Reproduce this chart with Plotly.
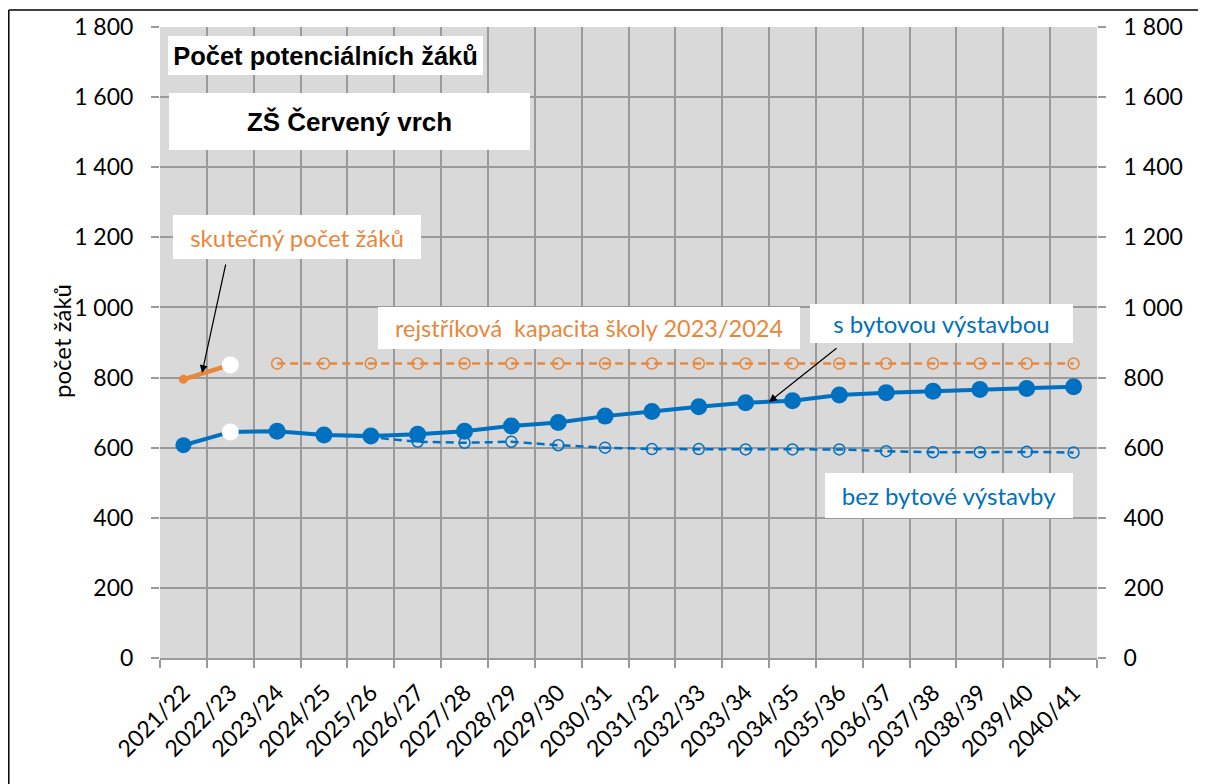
import plotly.graph_objects as go

categories = ["2021/22", "2022/23", "2023/24", "2024/25", "2025/26", "2026/27", "2027/28",
              "2028/29", "2029/30", "2030/31", "2031/32", "2032/33", "2033/34", "2034/35",
              "2035/36", "2036/37", "2037/38", "2038/39", "2039/40", "2040/41"]

actual_pupils = [795, 836]
with_housing = [607, 645, 647, 636, 633, 638, 647, 662, 672, 690, 703, 717, 728, 734,
                750, 757, 761, 766, 769, 774]
without_housing = [None, None, 647, 636, 630, 617, 614, 617, 607, 600, 596, 596, 595, 595,
                   595, 590, 587, 587, 588, 586]
capacity = [None, None] + [840] * 18

y_ticks = [0, 200, 400, 600, 800, 1000, 1200, 1400, 1600, 1800]

ORANGE = "#E8873A"
BLUE = "#0070C0"
GRID = "#9a9a9a"
FONT = "Lato"

fig = go.Figure()

fig.add_trace(go.Scatter(
    x=categories, y=capacity, mode="lines+markers",
    line=dict(color=ORANGE, width=2.5, dash="8px,5px"),
    marker=dict(symbol="circle-open", size=11, color=ORANGE, opacity=1,
                line=dict(width=1.5, color=ORANGE)),
    showlegend=False, hoverinfo="skip"))

fig.add_trace(go.Scatter(
    x=categories, y=without_housing, mode="lines+markers",
    line=dict(color=BLUE, width=2.5, dash="8px,5px"),
    marker=dict(symbol="circle-open", size=11, color=BLUE, opacity=1,
                line=dict(width=1.5, color=BLUE)),
    showlegend=False, hoverinfo="skip"))

fig.add_trace(go.Scatter(
    x=categories, y=with_housing, mode="lines+markers",
    line=dict(color=BLUE, width=4),
    marker=dict(size=[16] + [17] * 19, opacity=1,
                color=[BLUE, "white"] + [BLUE] * 18,
                line=dict(width=0)),
    showlegend=False, hoverinfo="skip"))

fig.add_trace(go.Scatter(
    x=categories[:2], y=actual_pupils, mode="lines+markers",
    line=dict(color=ORANGE, width=4.5),
    marker=dict(size=[9, 17], opacity=1, color=[ORANGE, "white"], line=dict(width=0)),
    showlegend=False, hoverinfo="skip"))

# dummy trace for right axis
fig.add_trace(go.Scatter(x=[categories[0]], y=[None], yaxis="y2", showlegend=False,
                         hoverinfo="skip"))

OFF = 8  # page offset of the figure (body margin)
FW, FH = 1198, 776
L, R, T, B = 160, 1097, 27, 658  # plot area in page pixels
W, H = R - L, B - T


def px(x):
    return (x - L) / W


def py(y):
    return (B - y) / H


def box(text, x0, x1, y0, y1, color, size, family, bold=False):
    t = f"<b>{text}</b>" if bold else text
    return dict(text=t, xref="paper", yref="paper",
                x=px((x0 + x1) / 2), y=py((y0 + y1) / 2),
                xanchor="center", yanchor="middle",
                width=x1 - x0, height=y1 - y0, align="center", valign="middle",
                bgcolor="white", borderpad=0, borderwidth=0, showarrow=False,
                font=dict(family=family, size=size, color=color))


annotations = [
    box("Počet potenciálních žáků", 168, 483, 36, 75, "black", 25.5, "Liberation Sans", True),
    box("ZŠ Červený vrch", 169, 530, 93, 150, "black", 26, "Liberation Sans", True),
    box("skutečný počet žáků", 173, 421, 215, 259, ORANGE, 24, FONT),
    box("rejstříková&nbsp; kapacita školy 2023/2024", 378, 800, 307, 349, ORANGE, 23.5, FONT),
    box("s bytovou výstavbou", 810, 1073, 304, 343, BLUE, 24, FONT),
    box("bez bytové výstavby", 825, 1073, 473, 518, BLUE, 24, FONT),
    dict(text="počet žáků", xref="paper", yref="paper", x=px(61), y=py(341),
         xanchor="center", yanchor="middle", textangle=-90, showarrow=False,
         font=dict(family=FONT, size=24, color="black")),
    dict(text="", xref="paper", yref="paper", x=px(202), y=py(373),
         axref="pixel", ayref="pixel", ax=24, ay=-110, showarrow=True,
         arrowhead=2, arrowsize=1.3, arrowwidth=1.2, arrowcolor="black"),
    dict(text="", xref="paper", yref="paper", x=px(769), y=py(402),
         axref="pixel", ayref="pixel", ax=69, ay=-55, showarrow=True,
         arrowhead=2, arrowsize=1.3, arrowwidth=1.2, arrowcolor="black"),
]

shapes = [
    dict(type="line", xref="paper", yref="paper", x0=px(8.8), x1=px(8.8), y0=py(10), y1=py(800),
         line=dict(color="black", width=1.5)),
    dict(type="line", xref="paper", yref="paper", x0=px(8.8), x1=px(1220), y0=py(10), y1=py(10),
         line=dict(color="black", width=1.5)),
]

yaxis_common = dict(range=[0, 1800], tickvals=y_ticks, tickformat=",d",
                    ticks="outside", ticklen=8, tickcolor=GRID, tickwidth=1.5,
                    ticklabelstandoff=13,
                    tickfont=dict(family=FONT, size=23, color="black"),
                    zeroline=False, fixedrange=True)

fig.update_layout(
    width=FW, height=FH,
    margin=dict(l=L - OFF, r=FW - (R - OFF), t=T - OFF, b=FH - (B - OFF), autoexpand=False),
    paper_bgcolor="white", plot_bgcolor="#d9d9d9",
    separators=", ",
    xaxis=dict(type="category", categoryorder="array", categoryarray=categories,
               tickson="boundaries", showgrid=True, gridcolor=GRID, gridwidth=1.5,
               ticks="outside", ticklen=8, tickcolor=GRID, tickwidth=1.5,
               showline=True, linecolor=GRID, linewidth=2,
               tickangle=-45, ticklabelstandoff=10,
               tickfont=dict(family=FONT, size=23, color="black"),
               range=[-0.5, 19.5]),
    yaxis=dict(**yaxis_common, showgrid=True, gridcolor=GRID, gridwidth=1.5, side="left"),
    yaxis2=dict(**yaxis_common, overlaying="y", side="right", showgrid=False),
    annotations=annotations,
    shapes=shapes,
)

fig.write_html("out.html")
